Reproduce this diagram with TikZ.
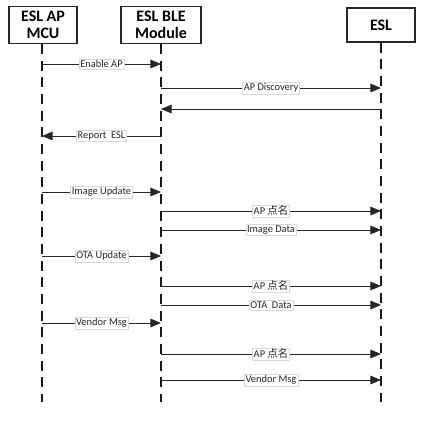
\documentclass[tikz,border=0pt]{standalone}
\usepackage{fontspec}
\setmainfont{Carlito}
\newfontfamily\cjk{Noto Sans CJK SC}
\usetikzlibrary{positioning, arrows.meta}

\begin{document}
\begin{tikzpicture}[x=0.75pt, y=-0.75pt, >={Triangle[length=8pt, width=6.5pt]},
    actor/.style={draw=black!85, line width=0.9pt, rectangle, align=center, font=\fontsize{12}{13}\selectfont\bfseries},
    lifeline/.style={black!90, line width=1pt, dash pattern=on 7.5pt off 5pt},
    msg/.style={->, black!85, line width=0.7pt},
    lbl/.style={fill=white, draw=black!15, line width=0.3pt, inner sep=1pt, font=\fontsize{7.8}{9}\selectfont}]
    \useasboundingbox (0,0) rectangle (427,429);
    % Participants
    \node[actor, minimum width=51pt, minimum height=25.5pt] (mcu) at (43,25) {ESL AP\\MCU};
    \node[actor, minimum width=60pt, minimum height=25.5pt] (ble) at (161,25) {ESL BLE\\Module};
    \node[actor, minimum width=51pt, minimum height=25.5pt] (esl) at (381,25) {ESL};
    % Lifelines
    \coordinate (mcuend) at (42,402);
    \coordinate (bleend) at (161,402);
    \coordinate (eslend) at (381,402);
    \draw[lifeline] (mcu.south -| mcuend) -- (mcuend);
    \draw[lifeline] (ble.south) -- (bleend);
    \draw[lifeline] (esl.south) -- (eslend);
    % Message levels
    \foreach \name/\y in {m1/64, m2/88, m3/109, m4/136, m5/192, m6/211, m7/230, m8/256, m9/286, m10/305, m11/323, m12/354, m13/380}
        \coordinate (\name) at (0,\y);
    % Messages: MCU and BLE module
    \draw[msg] (mcuend |- m1) -- node[lbl] {Enable AP} (bleend |- m1);
    \draw[msg] (bleend |- m4) -- node[lbl] {Report\ \ ESL} (mcuend |- m4);
    \draw[msg] (mcuend |- m5) -- node[lbl] {Image Update} (bleend |- m5);
    \draw[msg] (mcuend |- m8) -- node[lbl] {OTA Update} (bleend |- m8);
    \draw[msg] (mcuend |- m11) -- node[lbl] {Vendor Msg} (bleend |- m11);
    % Messages: BLE module and ESL
    \draw[msg] (bleend |- m2) -- node[lbl] {AP Discovery} (eslend |- m2);
    \draw[msg] (eslend |- m3) -- (bleend |- m3);
    \draw[msg] (bleend |- m6) -- node[lbl] {AP {\cjk 点名}} (eslend |- m6);
    \draw[msg] (bleend |- m7) -- node[lbl] {Image Data} (eslend |- m7);
    \draw[msg] (bleend |- m9) -- node[lbl] {AP {\cjk 点名}} (eslend |- m9);
    \draw[msg] (bleend |- m10) -- node[lbl] {OTA\ \ Data} (eslend |- m10);
    \draw[msg] (bleend |- m12) -- node[lbl] {AP {\cjk 点名}} (eslend |- m12);
    \draw[msg] (bleend |- m13) -- node[lbl] {Vendor Msg} (eslend |- m13);
\end{tikzpicture}
\end{document}
